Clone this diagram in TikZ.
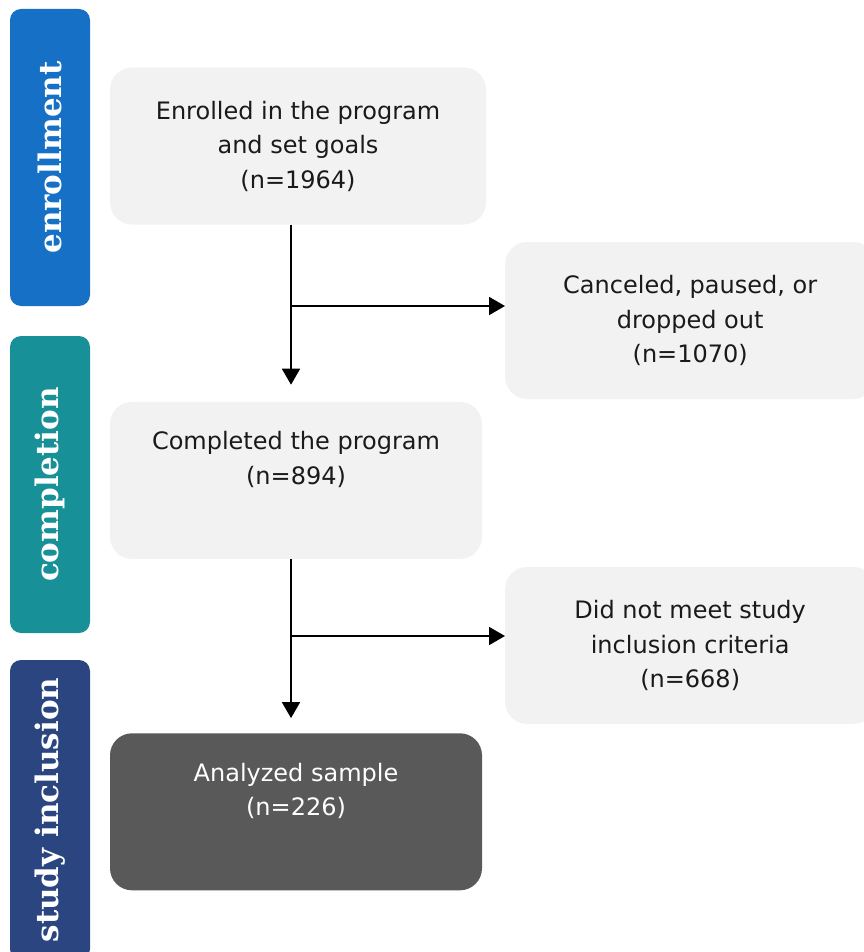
\documentclass[tikz,border=0pt]{standalone}
\usepackage{fontspec}
\setmainfont{DejaVu Sans}
\newfontfamily\barfont{DejaVu Serif}
\usetikzlibrary{arrows.meta,calc,positioning}
\definecolor{ink}{HTML}{1A1A1A}
\definecolor{paper}{HTML}{F2F2F2}
\definecolor{slate}{HTML}{595959}
\definecolor{enrblue}{HTML}{1570C6}
\definecolor{comteal}{HTML}{179197}
\definecolor{incnavy}{HTML}{2A4580}

\begin{document}
\begin{tikzpicture}[x=1pt,y=-1pt,>={Triangle[length=16pt,width=18pt]},
  box/.style={fill=paper,rounded corners=22pt,minimum height=157pt,align=center,text=ink,font=\fontsize{24}{34.5}\selectfont},
  bar/.style={rounded corners=11pt,minimum width=297pt,minimum height=80pt,rotate=90,text=white,font=\barfont\bfseries\fontsize{31}{36}\selectfont},
  flow/.style={->,line width=1.8pt}]
\useasboundingbox (0,0) rectangle (863,952);
\node[bar,fill=enrblue] (enrbar) at (50,157.5) {enrollment};
\node[bar,fill=comteal] (combar) at (50,484.5) {completion};
\node[bar,fill=incnavy,minimum width=300pt] (incbar) at (50,810) {study inclusion};
\node[box,minimum width=376pt] (enrolled) at (298,146) {Enrolled in the program\\and set goals\\(n=1964)};
\node[box,minimum width=372pt,below right=177pt and 0pt of enrolled.south west] (completed) {Completed the program\\(n=894)\\\strut};
\node[box,minimum width=372pt,fill=slate,text=white,below right=174pt and 0pt of completed.south west] (analyzed) {Analyzed sample\\(n=226)\\\strut};
\node[box,minimum width=370pt,anchor=west] (cancelled) at (505,320.5) {Canceled, paused, or\\dropped out\\(n=1070)};
\node[box,minimum width=370pt,anchor=west] (unmet) at (505,645.5) {Did not meet study\\inclusion criteria\\(n=668)};
\coordinate (split1) at (291,306);
\coordinate (split2) at (291,636);
\draw[flow,shorten >=17pt] (enrolled.south -| split1) -- (completed.north -| split1);
\draw[flow] (split1) -- (split1 -| cancelled.west);
\draw[flow,shorten >=15pt] (completed.south -| split2) -- (analyzed.north -| split2);
\draw[flow] (split2) -- (split2 -| unmet.west);
\end{tikzpicture}
\end{document}
